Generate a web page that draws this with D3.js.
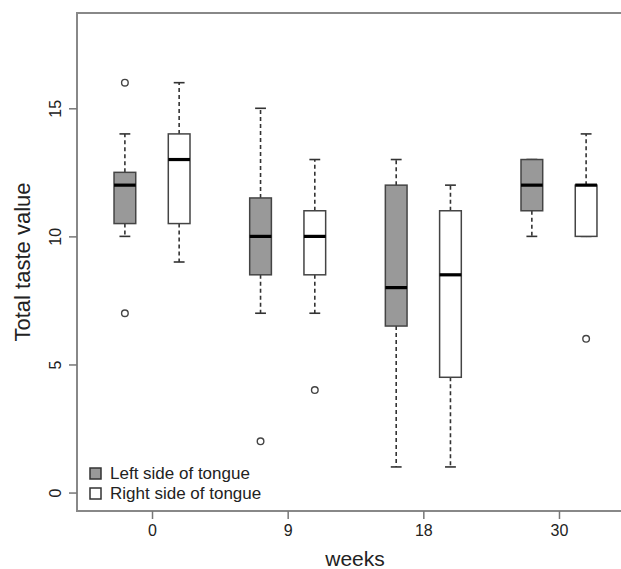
<!DOCTYPE html>
<html>
    <head>
        <meta charset="utf-8">
        <title>Total taste value</title>
        <style>
            body { margin: 0; background: #fff; overflow: hidden; }
            text { font-family: "Liberation Sans", Arial, sans-serif; fill: #222; }
        </style>
    </head>
    <body>
        <script src="https://cdn.jsdelivr.net/npm/d3@7"></script>
        <script type="text/javascript">
            // data
            var weeks = ["0", "9", "18", "30"];
            var sides = ["Left side of tongue", "Right side of tongue"];
            var yTicks = [0, 5, 10, 15];

            // per week: [lower whisker, Q1, median, Q3, upper whisker]
            var leftStats = [
                [10, 10.5, 12, 12.5, 14],
                [7, 8.5, 10, 11.5, 15],
                [1, 6.5, 8, 12, 13],
                [10, 11, 12, 13, 13]
            ];
            var rightStats = [
                [9, 10.5, 13, 14, 16],
                [7, 8.5, 10, 11, 13],
                [1, 4.5, 8.5, 11, 12],
                [10, 10, 12, 12, 14]
            ];
            var leftOutliers = [[16, 7], [2], [], []];
            var rightOutliers = [[], [4], [], [6]];

            var w = 621, h = 569;
            var plotLeft = 77, plotRight = 634, plotTop = 13, plotBottom = 511;

            var svg = d3.select("body").append("svg")
                .attr("width", w)
                .attr("height", h)
                .style("display", "block");

            var x = d3.scaleLinear().domain([-0.553, 3.553]).range([plotLeft, plotRight]);
            var y = d3.scaleLinear().domain([-0.72, 18.72]).range([plotBottom, plotTop]);

            var offset = 0.2, boxW = x(0.16) - x(0);

            var boxes = [];
            weeks.forEach(function(wk, i) {
                boxes.push({pos: i - offset, s: leftStats[i], out: leftOutliers[i], fill: "#999999"});
                boxes.push({pos: i + offset, s: rightStats[i], out: rightOutliers[i], fill: "#ffffff"});
            });

            var g = svg.selectAll("g.box").data(boxes).enter().append("g").attr("class", "box");

            // whiskers
            g.append("line")
                .attr("x1", function(d) { return x(d.pos); })
                .attr("x2", function(d) { return x(d.pos); })
                .attr("y1", function(d) { return y(d.s[3]); })
                .attr("y2", function(d) { return y(d.s[4]); })
                .attr("stroke", "#333").attr("stroke-width", 1.6).attr("stroke-dasharray", "4,3");
            g.append("line")
                .attr("x1", function(d) { return x(d.pos); })
                .attr("x2", function(d) { return x(d.pos); })
                .attr("y1", function(d) { return y(d.s[1]); })
                .attr("y2", function(d) { return y(d.s[0]); })
                .attr("stroke", "#333").attr("stroke-width", 1.6).attr("stroke-dasharray", "4,3");

            // staples
            [0, 4].forEach(function(k) {
                g.append("line")
                    .attr("x1", function(d) { return x(d.pos) - boxW / 4; })
                    .attr("x2", function(d) { return x(d.pos) + boxW / 4; })
                    .attr("y1", function(d) { return y(d.s[k]); })
                    .attr("y2", function(d) { return y(d.s[k]); })
                    .attr("stroke", "#333").attr("stroke-width", 1.6);
            });

            // boxes
            g.append("rect")
                .attr("x", function(d) { return x(d.pos) - boxW / 2; })
                .attr("width", boxW)
                .attr("y", function(d) { return y(d.s[3]); })
                .attr("height", function(d) { return y(d.s[1]) - y(d.s[3]); })
                .attr("fill", function(d) { return d.fill; })
                .attr("stroke", "#444").attr("stroke-width", 1.5);

            // medians
            g.append("line")
                .attr("x1", function(d) { return x(d.pos) - boxW / 2; })
                .attr("x2", function(d) { return x(d.pos) + boxW / 2; })
                .attr("y1", function(d) { return y(d.s[2]); })
                .attr("y2", function(d) { return y(d.s[2]); })
                .attr("stroke", "#000").attr("stroke-width", 3.2);

            // outliers
            g.selectAll("circle")
                .data(function(d) { return d.out.map(function(v) { return {pos: d.pos, v: v}; }); })
                .enter().append("circle")
                .attr("cx", function(d) { return x(d.pos); })
                .attr("cy", function(d) { return y(d.v); })
                .attr("r", 3.3)
                .attr("fill", "none").attr("stroke", "#444").attr("stroke-width", 1.4);

            // frame
            svg.append("rect")
                .attr("x", plotLeft).attr("y", plotTop)
                .attr("width", plotRight - plotLeft).attr("height", plotBottom - plotTop)
                .attr("fill", "none").attr("stroke", "#888").attr("stroke-width", 2);

            // y axis
            var yAxis = svg.append("g")
                .attr("transform", "translate(" + plotLeft + ",0)")
                .call(d3.axisLeft(y).tickValues(yTicks).tickSize(8).tickPadding(6));
            yAxis.select(".domain").remove();
            yAxis.selectAll(".tick line").attr("stroke", "#777").attr("stroke-width", 1.5);
            yAxis.selectAll(".tick text")
                .attr("transform", "rotate(-90)")
                .attr("x", 0).attr("y", -16).attr("dy", 0)
                .attr("text-anchor", "middle")
                .style("font-size", "16px").style("font-family", "Liberation Sans, Arial, sans-serif")
                .attr("fill", "#222");

            // x axis
            var xAxis = svg.append("g")
                .attr("transform", "translate(0," + plotBottom + ")")
                .call(d3.axisBottom(x).tickValues(d3.range(weeks.length))
                    .tickFormat(function(i) { return weeks[i]; })
                    .tickSize(8).tickPadding(6));
            xAxis.select(".domain").remove();
            xAxis.selectAll(".tick line").attr("stroke", "#777").attr("stroke-width", 1.5);
            xAxis.selectAll(".tick text")
                .style("font-size", "16px").style("font-family", "Liberation Sans, Arial, sans-serif")
                .attr("fill", "#222");

            // axis titles
            svg.append("text")
                .attr("x", 355).attr("y", 566)
                .attr("text-anchor", "middle")
                .style("font-size", "21px")
                .text("weeks");
            svg.append("text")
                .attr("transform", "translate(30," + ((plotTop + plotBottom) / 2) + ") rotate(-90)")
                .attr("text-anchor", "middle")
                .style("font-size", "22px")
                .text("Total taste value");

            // legend
            var legend = svg.selectAll("g.legend").data(sides).enter().append("g")
                .attr("class", "legend")
                .attr("transform", function(d, i) { return "translate(90," + (468 + i * 20) + ")"; });
            legend.append("rect")
                .attr("width", 11).attr("height", 11)
                .attr("fill", function(d, i) { return i === 0 ? "#999999" : "#ffffff"; })
                .attr("stroke", "#333").attr("stroke-width", 1.5);
            legend.append("text")
                .attr("x", 20).attr("y", 11)
                .style("font-size", "17px")
                .text(function(d) { return d; });
        </script>
    </body>
</html>
